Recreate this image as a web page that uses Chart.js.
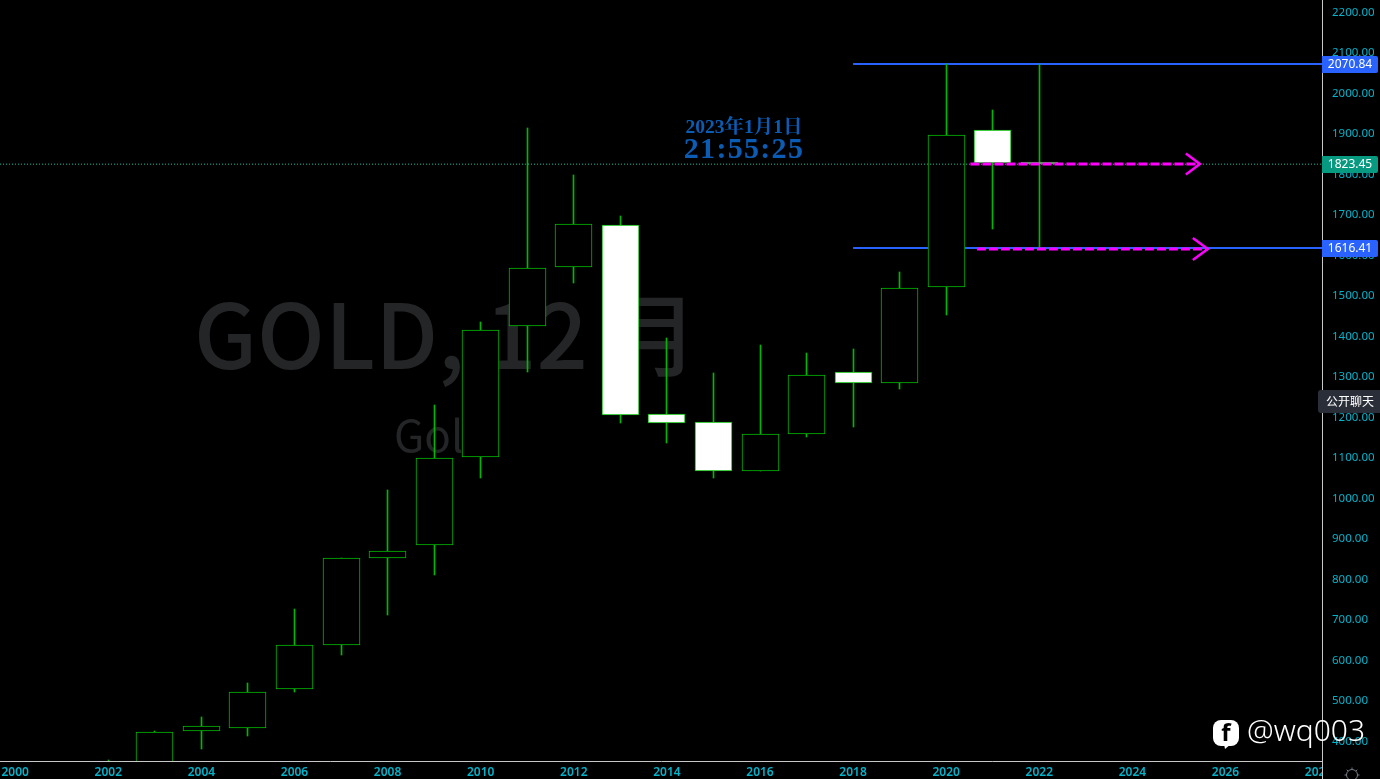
<!DOCTYPE html>
<html>
<head>
<meta charset="utf-8">
<title>GOLD, 12月</title>
<script src="https://cdn.jsdelivr.net/npm/chart.js@4"></script>
<style>
  html, body { margin: 0; padding: 0; background: #000; overflow: hidden; }
  canvas { display: block; }
</style>
</head>
<body>
<canvas id="goldChart" width="1380" height="779"></canvas>
<script>
// Candle data
const years  = [2002, 2003, 2004, 2005, 2006, 2007, 2008, 2009, 2010, 2011, 2012, 2013, 2014, 2015, 2016, 2017, 2018, 2019, 2020, 2021, 2022];
const opens  = [278, 347, 423, 432, 528, 637, 850, 882, 1100, 1424, 1569, 1673, 1206, 1186, 1065, 1156, 1310, 1283, 1520, 1908, 1829];
const closes = [347, 422, 436, 519, 635, 850, 867, 1097, 1414, 1567, 1676, 1203, 1185, 1065, 1156, 1302, 1283, 1517, 1896, 1827, 1823.45];
const highs  = [353, 424, 457, 541, 724, 850, 1018, 1228, 1433, 1913, 1797, 1696, 1394, 1307, 1377, 1357, 1367, 1557, 2071, 1958, 2070.84];
const lows   = [277, 320, 378, 412, 519, 610, 709, 808, 1048, 1310, 1530, 1184, 1134, 1048, 1065, 1149, 1174, 1268, 1451, 1663, 1616.41];

// Levels and drawings on the chart
const highLevel = 2070.84;
const lowLevel = 1616.41;
const lastPrice = 1823.45;
const levelStartYear = 2018;
const arrowOneYears = [2020.52, 2025.45];
const arrowOnePrice = 1823.9;
const arrowTwoYears = [2020.66, 2025.62];
const arrowTwoPrice = 1614;

const xMin = 1999.6735;
const xMax = 2028.073;
const yMin = 349.4;
const yMax = 2228.9;

const green = '#00b800';
const blue = '#2962ff';
const teal = '#089981';
const magenta = '#ff00ff';
const axisColor = '#c8c8c8';
const tickColor = '#00b4cc';
const sansFont = '"Noto Sans", "Noto Sans CJK SC", sans-serif';
const cjkFont = '"Noto Sans CJK SC", sans-serif';
const serifFont = '"Liberation Serif", "Noto Serif CJK SC", "Noto Sans CJK SC", serif';

function textAt(ctx, text, x, y, font, color, align) {
  ctx.font = font;
  ctx.fillStyle = color;
  ctx.textAlign = align || 'center';
  ctx.textBaseline = 'middle';
  ctx.fillText(text, x, y);
}

function noPadding(scale) {
  scale.paddingTop = 0;
  scale.paddingBottom = 0;
  scale.paddingLeft = 0;
  scale.paddingRight = 0;
}

// Faint symbol text behind the candles, and pixel snapping for the bars
const backdropPlugin = {
  id: 'backdrop',
  beforeDatasetsDraw(chart) {
    const ctx = chart.ctx;
    ctx.save();
    textAt(ctx, 'GOLD, 12 月', 194, 335, '500 90px ' + cjkFont, '#242527', 'left');
    textAt(ctx, 'Gold', 394, 435, '44px ' + cjkFont, '#242527', 'left');
    ctx.restore();

    chart.data.datasets.forEach((ds, i) => {
      if (ds.type !== 'bar') return;
      chart.getDatasetMeta(i).data.forEach((el) => {
        el.x = Math.floor(el.x) + 0.5;
        el.y = Math.round(el.y);
        el.base = Math.round(el.base);
      });
    });
  },
};

function drawBadge(chart, value, color) {
  const ctx = chart.ctx;
  const y = Math.round(chart.scales.y.getPixelForValue(value));
  ctx.fillStyle = color;
  ctx.beginPath();
  ctx.roundRect(1322, y - 8, 56, 17, [0, 2, 2, 0]);
  ctx.fill();
  textAt(ctx, value.toFixed(2), 1350, y + 1, '12px ' + sansFont, '#ffffff');
}

function drawArrowHead(chart, year, price, back, spread) {
  const ctx = chart.ctx;
  const x = chart.scales.x.getPixelForValue(year);
  const y = chart.scales.y.getPixelForValue(price);
  ctx.strokeStyle = magenta;
  ctx.lineWidth = 2.5;
  ctx.beginPath();
  ctx.moveTo(x - back, y - spread);
  ctx.lineTo(x, y);
  ctx.lineTo(x - back, y + spread);
  ctx.stroke();
}

function drawGear(ctx, x, y) {
  ctx.strokeStyle = '#787b86';
  ctx.lineWidth = 1;
  ctx.beginPath();
  ctx.arc(x, y, 5.5, 0, Math.PI * 2);
  ctx.stroke();
  for (let i = 0; i < 8; i++) {
    const a = (i * Math.PI) / 4;
    ctx.beginPath();
    ctx.moveTo(x + Math.cos(a) * 5.5, y + Math.sin(a) * 5.5);
    ctx.lineTo(x + Math.cos(a) * 7.5, y + Math.sin(a) * 7.5);
    ctx.stroke();
  }
}

// Everything that sits on top: clock, arrow heads, price badges, watermark
const overlayPlugin = {
  id: 'overlay',
  afterDraw(chart) {
    const ctx = chart.ctx;
    ctx.save();

    textAt(ctx, '2023年1月1日', 744, 128, 'bold 19.5px ' + serifFont, '#0b5cb5');
    ctx.letterSpacing = '1.3px';
    textAt(ctx, '21:55:25', 744, 150, 'bold 30px ' + serifFont, '#0b5cb5');
    ctx.letterSpacing = '0px';

    drawArrowHead(chart, arrowOneYears[1], arrowOnePrice, 14, 10.5);
    drawArrowHead(chart, arrowTwoYears[1], arrowTwoPrice, 15, 11);

    // the 2028 label is cut off by the price axis
    ctx.fillStyle = '#000';
    ctx.fillRect(1322, 762, 58, 17);
    ctx.fillStyle = axisColor;
    ctx.fillRect(1322, 761, 1, 18);

    drawBadge(chart, highLevel, blue);
    drawBadge(chart, lastPrice, teal);
    drawBadge(chart, lowLevel, blue);

    ctx.fillStyle = '#2a2e39';
    ctx.beginPath();
    ctx.roundRect(1318, 390, 62, 23, [3, 0, 0, 3]);
    ctx.fill();
    textAt(ctx, '公开聊天', 1350, 401, '12px ' + cjkFont, '#ffffff');

    drawGear(ctx, 1352, 775);

    // page watermark
    ctx.fillStyle = '#ffffff';
    ctx.beginPath();
    ctx.roundRect(1213, 720, 26, 26, 8);
    ctx.fill();
    ctx.beginPath();
    ctx.moveTo(1224, 744);
    ctx.lineTo(1225, 749);
    ctx.lineTo(1231, 744);
    ctx.fill();
    textAt(ctx, 'f', 1226, 734, 'bold 24px ' + sansFont, '#000000');
    textAt(ctx, '@wq003', 1247, 732, '300 30px ' + sansFont, '#ffffff', 'left');

    ctx.restore();
  },
};

new Chart(document.getElementById('goldChart'), {
  data: {
    datasets: [
      {
        type: 'line',
        data: [{ x: levelStartYear, y: highLevel }, { x: xMax, y: highLevel }],
        borderColor: blue,
        borderWidth: 2,
        pointRadius: 0,
        order: 10,
      },
      {
        type: 'line',
        data: [{ x: levelStartYear, y: lowLevel }, { x: xMax, y: lowLevel }],
        borderColor: blue,
        borderWidth: 2,
        pointRadius: 0,
        order: 10,
      },
      {
        type: 'bar',
        data: years.map((year, i) => ({ x: year, y: [lows[i], highs[i]] })),
        backgroundColor: green,
        borderWidth: 0,
        barThickness: 1,
        grouped: false,
        order: 6,
      },
      {
        type: 'bar',
        data: years.map((year, i) => ({ x: year, y: [opens[i], closes[i]] })),
        backgroundColor: years.map((year, i) => (closes[i] < opens[i] ? '#ffffff' : '#000000')),
        borderColor: green,
        borderWidth: 1,
        borderSkipped: false,
        barThickness: 37,
        grouped: false,
        order: 5,
      },
      {
        type: 'line',
        data: [{ x: xMin, y: lastPrice }, { x: xMax, y: lastPrice }],
        borderColor: '#00c8a8',
        borderWidth: 1,
        borderDash: [1, 2],
        pointRadius: 0,
        order: 3,
      },
      {
        type: 'line',
        data: arrowOneYears.map((year) => ({ x: year, y: arrowOnePrice })),
        borderColor: magenta,
        borderWidth: 3,
        borderDash: [9, 3],
        pointRadius: 0,
        order: 1,
      },
      {
        type: 'line',
        data: arrowTwoYears.map((year) => ({ x: year, y: arrowTwoPrice })),
        borderColor: magenta,
        borderWidth: 3,
        borderDash: [9, 3],
        pointRadius: 0,
        order: 1,
      },
    ],
  },
  options: {
    responsive: false,
    animation: false,
    layout: { padding: 0, autoPadding: false },
    plugins: {
      legend: { display: false },
      tooltip: { enabled: false },
    },
    scales: {
      x: {
        type: 'linear',
        min: xMin,
        max: xMax,
        offset: false,
        afterFit(scale) {
          scale.height = 18;
          noPadding(scale);
        },
        grid: { display: false, drawTicks: false },
        border: { display: true, color: axisColor, width: 1 },
        ticks: {
          stepSize: 2,
          includeBounds: false,
          autoSkip: false,
          maxRotation: 0,
          padding: 4,
          color: tickColor,
          font: { family: sansFont, size: 12, weight: '600' },
          callback: (value) => String(value),
        },
      },
      y: {
        type: 'linear',
        position: 'right',
        min: yMin,
        max: yMax,
        afterFit(scale) {
          scale.width = 58;
          noPadding(scale);
        },
        grid: { display: false, drawTicks: false },
        border: { display: true, color: axisColor, width: 1 },
        ticks: {
          stepSize: 100,
          includeBounds: false,
          autoSkip: false,
          crossAlign: 'near',
          padding: 10,
          labelOffset: 1,
          color: tickColor,
          font: { family: sansFont, size: 11.5 },
          callback: (value) => value.toFixed(2),
        },
      },
    },
  },
  plugins: [backdropPlugin, overlayPlugin],
});
</script>
</body>
</html>
